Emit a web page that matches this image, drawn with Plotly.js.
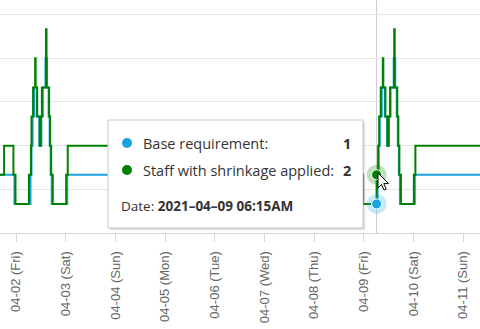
<!DOCTYPE html>
<html>
<head>
<meta charset="utf-8">
<script src="https://cdn.plot.ly/plotly-3.0.1.min.js"></script>
<style>html,body{margin:0;padding:0;background:#fff;}#chart{width:480px;height:329px;}</style>
</head>
<body>
<div id="chart"></div>
<script>
// ---- data ----
const seriesNames = ['Base requirement', 'Staff with shrinkage applied'];

const baseTimes = [
  '2021-04-01 12:00','2021-04-01 23:15','2021-04-02 07:00','2021-04-02 07:30','2021-04-02 08:00',
  '2021-04-02 08:45','2021-04-02 10:00','2021-04-02 11:15','2021-04-02 12:15','2021-04-02 13:00',
  '2021-04-02 14:15','2021-04-02 15:00','2021-04-02 15:45','2021-04-02 16:15','2021-04-02 16:45',
  '2021-04-02 17:15','2021-04-03 00:45','2021-04-08 23:15','2021-04-09 06:45','2021-04-09 07:15',
  '2021-04-09 07:45','2021-04-09 08:45','2021-04-09 10:15','2021-04-09 11:15','2021-04-09 12:15',
  '2021-04-09 13:00','2021-04-09 14:30','2021-04-09 15:15','2021-04-09 16:00','2021-04-09 16:30',
  '2021-04-09 17:00','2021-04-09 17:30','2021-04-10 00:45','2021-04-11 12:00'
];
const baseValues = [
  2,1,2,3,4,
  5,4,3,4,5,
  6,5,4,3,2,
  1,2,1,2,3,
  4,5,4,3,4,
  5,6,5,4,3,
  2,1,2,2
];

const staffTimes = [
  '2021-04-01 12:00','2021-04-01 18:15','2021-04-01 22:45','2021-04-01 23:45','2021-04-02 06:15',
  '2021-04-02 07:15','2021-04-02 07:30','2021-04-02 08:15','2021-04-02 09:15','2021-04-02 09:30',
  '2021-04-02 10:15','2021-04-02 11:30','2021-04-02 12:00','2021-04-02 12:30','2021-04-02 14:30',
  '2021-04-02 14:45','2021-04-02 16:00','2021-04-02 16:30','2021-04-02 17:00','2021-04-02 17:45',
  '2021-04-03 00:15','2021-04-03 01:00','2021-04-08 22:45','2021-04-08 23:45','2021-04-09 06:15',
  '2021-04-09 07:00','2021-04-09 07:30','2021-04-09 08:15','2021-04-09 09:15','2021-04-09 09:30',
  '2021-04-09 10:30','2021-04-09 11:30','2021-04-09 12:00','2021-04-09 12:45','2021-04-09 14:45',
  '2021-04-09 15:00','2021-04-09 16:15','2021-04-09 16:45','2021-04-09 17:15','2021-04-09 18:00',
  '2021-04-10 00:15','2021-04-10 01:00','2021-04-11 12:00'
];
const staffValues = [
  2,3,2,1,2,
  3,4,5,6,5,
  4,3,4,5,7,
  5,4,3,2,1,
  2,3,2,1,2,
  3,4,5,6,5,
  4,3,4,5,7,
  5,4,3,2,1,
  2,3,3
];

const tickDates  = ['2021-04-02','2021-04-03','2021-04-04','2021-04-05','2021-04-06',
                    '2021-04-07','2021-04-08','2021-04-09','2021-04-10','2021-04-11'];
const tickLabels = ['04-02 (Fri)','04-03 (Sat)','04-04 (Sun)','04-05 (Mon)','04-06 (Tue)',
                    '04-07 (Wed)','04-08 (Thu)','04-09 (Fri)','04-10 (Sat)','04-11 (Sun)'];

const hoverTime  = '2021-04-09 06:15';
const hoverLabel = '2021–04–09 06:15AM';

// ---- helpers ----
const blue = '#1ba3e0', green = '#008000';
function valueAt(times, values, t) {
  const tt = new Date(t.replace(' ', 'T')).getTime();
  let v = values[0];
  for (let i = 0; i < times.length; i++) {
    if (new Date(times[i].replace(' ', 'T')).getTime() <= tt) v = values[i];
  }
  return v;
}
const baseAt = valueAt(baseTimes, baseValues, hoverTime);
const staffAt = valueAt(staffTimes, staffValues, hoverTime);

const PW = 480, PH = 233;
const px = x => x / PW;
const py = y => 1 - y / PH;

const traces = [
  {x: baseTimes, y: baseValues, type: 'scatter', mode: 'lines', name: seriesNames[0],
   line: {color: blue, width: 2, shape: 'hv'}, hoverinfo: 'skip'},
  {x: staffTimes, y: staffValues, type: 'scatter', mode: 'lines', name: seriesNames[1],
   line: {color: green, width: 2, shape: 'hv'}, hoverinfo: 'skip'},
  // hover halos
  {x: [hoverTime], y: [baseAt], type: 'scatter', mode: 'markers', hoverinfo: 'skip',
   marker: {size: 20, color: 'rgba(27,163,224,0.25)'}},
  {x: [hoverTime], y: [staffAt], type: 'scatter', mode: 'markers', hoverinfo: 'skip',
   marker: {size: 20, color: 'rgba(0,128,0,0.25)'}},
  {x: [hoverTime, hoverTime], y: [baseAt, staffAt], type: 'scatter', mode: 'markers', hoverinfo: 'skip',
   marker: {size: 10, color: [blue, green], line: {color: '#ffffff', width: 1}}}
];

const tipFont = {family: 'Open Sans, sans-serif', size: 14.5, color: '#333333'};
const annotations = [
  {text: seriesNames[0] + ':', x: px(142), y: py(143)},
  {text: '<b>' + baseAt + '</b>', x: px(352), y: py(143), xanchor: 'right'},
  {text: seriesNames[1] + ':', x: px(142), y: py(170)},
  {text: '<b>' + staffAt + '</b>', x: px(352), y: py(170), xanchor: 'right'},
  {text: 'Date: <b>' + hoverLabel + '</b>', x: px(120), y: py(206), font: Object.assign({}, tipFont, {size: 13.5})}
].map(a => Object.assign({xref: 'paper', yref: 'paper', xanchor: 'left', yanchor: 'middle',
  showarrow: false, font: tipFont, borderpad: 0}, a));

const shapes = [
  {type: 'line', xref: 'x', yref: 'paper', x0: hoverTime, x1: hoverTime, y0: 0, y1: 1,
   line: {color: '#cccccc', width: 1}, layer: 'below'},
  {type: 'rect', xref: 'paper', yref: 'paper', x0: px(111), x1: px(366), y0: py(231), y1: py(123),
   fillcolor: 'rgba(0,0,0,0.04)', line: {width: 0}},
  {type: 'rect', xref: 'paper', yref: 'paper', x0: px(110), x1: px(365), y0: py(230), y1: py(122),
   fillcolor: 'rgba(0,0,0,0.06)', line: {width: 0}},
  {type: 'rect', xref: 'paper', yref: 'paper', x0: px(109), x1: px(364), y0: py(229), y1: py(121),
   fillcolor: 'rgba(0,0,0,0.08)', line: {width: 0}},
  {type: 'rect', xref: 'paper', yref: 'paper', x0: px(108), x1: px(363), y0: py(228), y1: py(120),
   fillcolor: '#ffffff', line: {color: '#c9c9c9', width: 1}},
  {type: 'circle', xref: 'paper', yref: 'paper', xsizemode: 'pixel', ysizemode: 'pixel',
   xanchor: px(127), yanchor: py(143), x0: -5, x1: 5, y0: -5, y1: 5,
   fillcolor: blue, line: {width: 0}},
  {type: 'circle', xref: 'paper', yref: 'paper', xsizemode: 'pixel', ysizemode: 'pixel',
   xanchor: px(127), yanchor: py(170), x0: -5, x1: 5, y0: -5, y1: 5,
   fillcolor: green, line: {width: 0}}
];

// mouse cursor arrow
const cur = [[0,0],[0,15],[3.5,11.5],[6,17],[8.2,16],[5.8,10.6],[10.6,10.6]];
const cx = 378, cy = 173;
shapes.push({type: 'path', xref: 'paper', yref: 'paper',
  path: 'M' + cur.map(p => px(cx + p[0]) + ',' + py(cy + p[1])).join(' L') + ' Z',
  fillcolor: '#ffffff', line: {color: '#000000', width: 1}});

const layout = {
  width: 480, height: 329,
  margin: {l: 0, r: 0, t: 0, b: 96, pad: 0},
  paper_bgcolor: '#ffffff', plot_bgcolor: '#ffffff',
  showlegend: false,
  xaxis: {
    type: 'date', range: ['2021-04-01 16:16', '2021-04-11 08:13'],
    tickmode: 'array', tickvals: tickDates, ticktext: tickLabels, tickangle: -90,
    ticks: 'outside', ticklen: 8, tickcolor: '#d6d6d6', tickwidth: 1, ticklabelstandoff: 4,
    showgrid: false, showline: true, linecolor: '#d6d6d6', linewidth: 1,
    tickfont: {family: 'Liberation Sans, Arial, sans-serif', size: 13, color: '#666666'},
    zeroline: false, fixedrange: true
  },
  yaxis: {
    range: [0, 8], dtick: 1.5, tick0: 0, showticklabels: false, ticks: '',
    showgrid: true, gridcolor: '#e6e6e6', gridwidth: 1, zeroline: false, fixedrange: true
  },
  annotations: annotations,
  shapes: shapes
};

Plotly.newPlot('chart', traces, layout, {displayModeBar: false, staticPlot: true});
</script>
</body>
</html>
